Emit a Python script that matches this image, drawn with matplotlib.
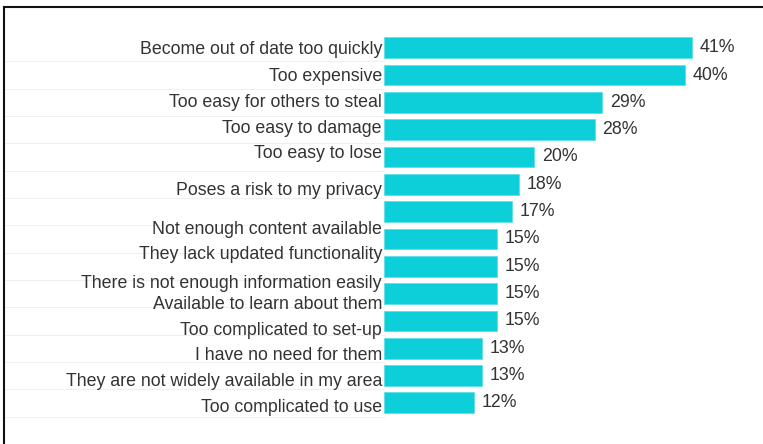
import matplotlib.pyplot as plt
from matplotlib.lines import Line2D

plt.rcParams['font.family'] = ['Liberation Sans', 'DejaVu Sans']

reasons = [
    'Become out of date too quickly',
    'Too expensive',
    'Too easy for others to steal',
    'Too easy to damage',
    'Too easy to lose',
    'Poses a risk to my privacy',
    'Not enough content available',
    'They lack updated functionality',
    'There is not enough information easily\nAvailable to learn about them',
    'Too complicated to set-up',
    'I have no need for them',
    'They are not widely available in my area',
    'Too complicated to use',
]
percent = [41, 40, 29, 28, 20, 18, 17, 15, 15, 15, 15, 13, 13, 12]

# the category text sits a little off the bars, so ticks get their own rows
label_rows = [0, 0.97, 1.95, 2.9, 3.81, 5.17, 6.57, 7.49, 8.88,
              10.27, 11.21, 12.14, 13.08]

fig = plt.figure(figsize=(7.63, 4.44), dpi=100)
ax = fig.add_axes([0.5033, 0.0311, 0.4731, 0.923])

rows = list(range(len(percent)))
bars = ax.barh(rows, percent, height=0.76, color='#0dcfda',
               edgecolor='#5fe0e8', linewidth=0.6)
ax.bar_label(bars, labels=[f'{v}%' for v in percent], padding=5.5,
             fontsize=12.8, color='#333333')

ax.set_xlim(0, 48)
ax.set_ylim(14.0, -1.0)
ax.set_xticks([])
ax.set_yticks(label_rows, reasons, fontsize=12.8, color='#333333',
              linespacing=1.3)
ax.tick_params(axis='y', length=0, pad=1.5)
for s in ax.spines.values():
    s.set_visible(False)

# faint row separators across the label column
trans = ax.get_yaxis_transform()
for r in rows:
    ax.plot([-1.05, 0], [r + 0.5, r + 0.5], transform=trans,
            color='#f0f0f0', lw=0.8, clip_on=False, zorder=0)

# dark frame along the top and left edge
fig.add_artist(Line2D([3.5 / 763, 3.5 / 763], [0, 1 - 7 / 444],
                      color='#111111', lw=1.5))
fig.add_artist(Line2D([3.5 / 763, 1], [1 - 7 / 444, 1 - 7 / 444],
                      color='#111111', lw=1.5))

fig.savefig('out.png', dpi=100)
